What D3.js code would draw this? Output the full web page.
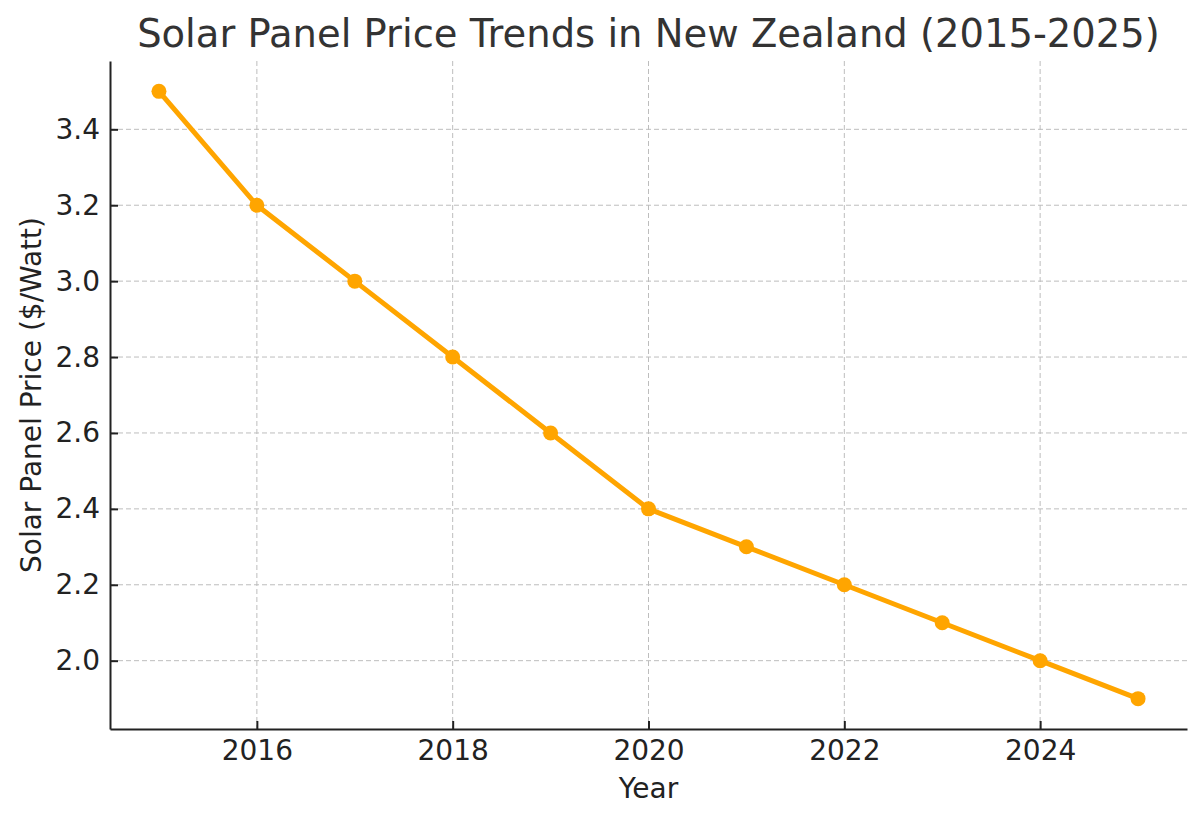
<!DOCTYPE html>
<meta charset="utf-8">
<script src="https://d3js.org/d3.v7.min.js"></script>
<style>
  body { margin: 0; background: #fff; }
  text { font-family: "DejaVu Sans", sans-serif; }
</style>
<div id="my_dataviz"></div>
<script>

// data
var years  = [2015, 2016, 2017, 2018, 2019, 2020, 2021, 2022, 2023, 2024, 2025];
var prices = [3.5, 3.2, 3.0, 2.8, 2.6, 2.4, 2.3, 2.2, 2.1, 2.0, 1.9];
var xTicks = [2016, 2018, 2020, 2022, 2024];
var yTicks = [2.0, 2.2, 2.4, 2.6, 2.8, 3.0, 3.2, 3.4];

var W = 1204, H = 822;
var margin = {top: 61, right: 17, bottom: 93, left: 110},
    width = W - margin.left - margin.right,
    height = H - margin.top - margin.bottom;

var svg = d3.select("#my_dataviz")
  .append("svg")
    .attr("width", W)
    .attr("height", H);

var g = svg.append("g")
    .attr("transform", "translate(" + margin.left + "," + margin.top + ")");

// matplotlib-like 5% margins
var x = d3.scaleLinear()
  .domain([2014.5, 2025.5])
  .range([0, width]);

var y = d3.scaleLinear()
  .domain([1.82, 3.58])
  .range([height, 0]);

// grid
g.append("g").selectAll("line")
  .data(xTicks)
  .enter().append("line")
    .attr("x1", function(d) { return x(d); })
    .attr("x2", function(d) { return x(d); })
    .attr("y1", 0).attr("y2", height)
    .attr("stroke", "#bdbdbd")
    .attr("stroke-width", 1)
    .attr("stroke-dasharray", "5,3");

g.append("g").selectAll("line")
  .data(yTicks)
  .enter().append("line")
    .attr("x1", 0).attr("x2", width)
    .attr("y1", function(d) { return y(d); })
    .attr("y2", function(d) { return y(d); })
    .attr("stroke", "#bdbdbd")
    .attr("stroke-width", 1)
    .attr("stroke-dasharray", "5,3");

// X axis
var xAxis = g.append("g")
  .attr("transform", "translate(0," + height + ")")
  .call(d3.axisBottom(x)
    .tickValues(xTicks)
    .tickFormat(d3.format("d"))
    .tickSizeInner(-8)
    .tickSizeOuter(0)
    .tickPadding(11));

// Y axis
var yAxis = g.append("g")
  .call(d3.axisLeft(y)
    .tickValues(yTicks)
    .tickFormat(d3.format(".1f"))
    .tickSizeInner(-8)
    .tickSizeOuter(0)
    .tickPadding(10));

[xAxis, yAxis].forEach(function(a) {
  a.select(".domain").attr("stroke", "#222").attr("stroke-width", 2);
  a.selectAll(".tick line").attr("stroke", "#222").attr("stroke-width", 2);
  a.selectAll(".tick text")
    .attr("fill", "#222")
    .style("font-size", "28px")
    .style("font-family", "'DejaVu Sans', sans-serif");
});

// line
g.append("path")
  .datum(years)
  .attr("fill", "none")
  .attr("stroke", "#FFA500")
  .attr("stroke-width", 5)
  .attr("stroke-linejoin", "round")
  .attr("d", d3.line()
    .x(function(d) { return x(d); })
    .y(function(d, i) { return y(prices[i]); }));

// dots
g.append("g")
  .selectAll("circle")
  .data(years)
  .enter()
  .append("circle")
    .attr("cx", function(d) { return x(d); })
    .attr("cy", function(d, i) { return y(prices[i]); })
    .attr("r", 7.5)
    .style("fill", "#FFA500");

// title
svg.append("text")
  .attr("x", margin.left + width / 2)
  .attr("y", 47)
  .attr("text-anchor", "middle")
  .attr("fill", "#333")
  .style("font-size", "38.5px")
  .text("Solar Panel Price Trends in New Zealand (2015-2025)");

// X label
svg.append("text")
  .attr("x", margin.left + width / 2)
  .attr("y", 798)
  .attr("text-anchor", "middle")
  .attr("fill", "#222")
  .style("font-size", "28px")
  .text("Year");

// Y label
svg.append("text")
  .attr("transform", "translate(41," + (margin.top + height / 2) + ") rotate(-90)")
  .attr("text-anchor", "middle")
  .attr("fill", "#222")
  .style("font-size", "28px")
  .text("Solar Panel Price ($/Watt)");

</script>
